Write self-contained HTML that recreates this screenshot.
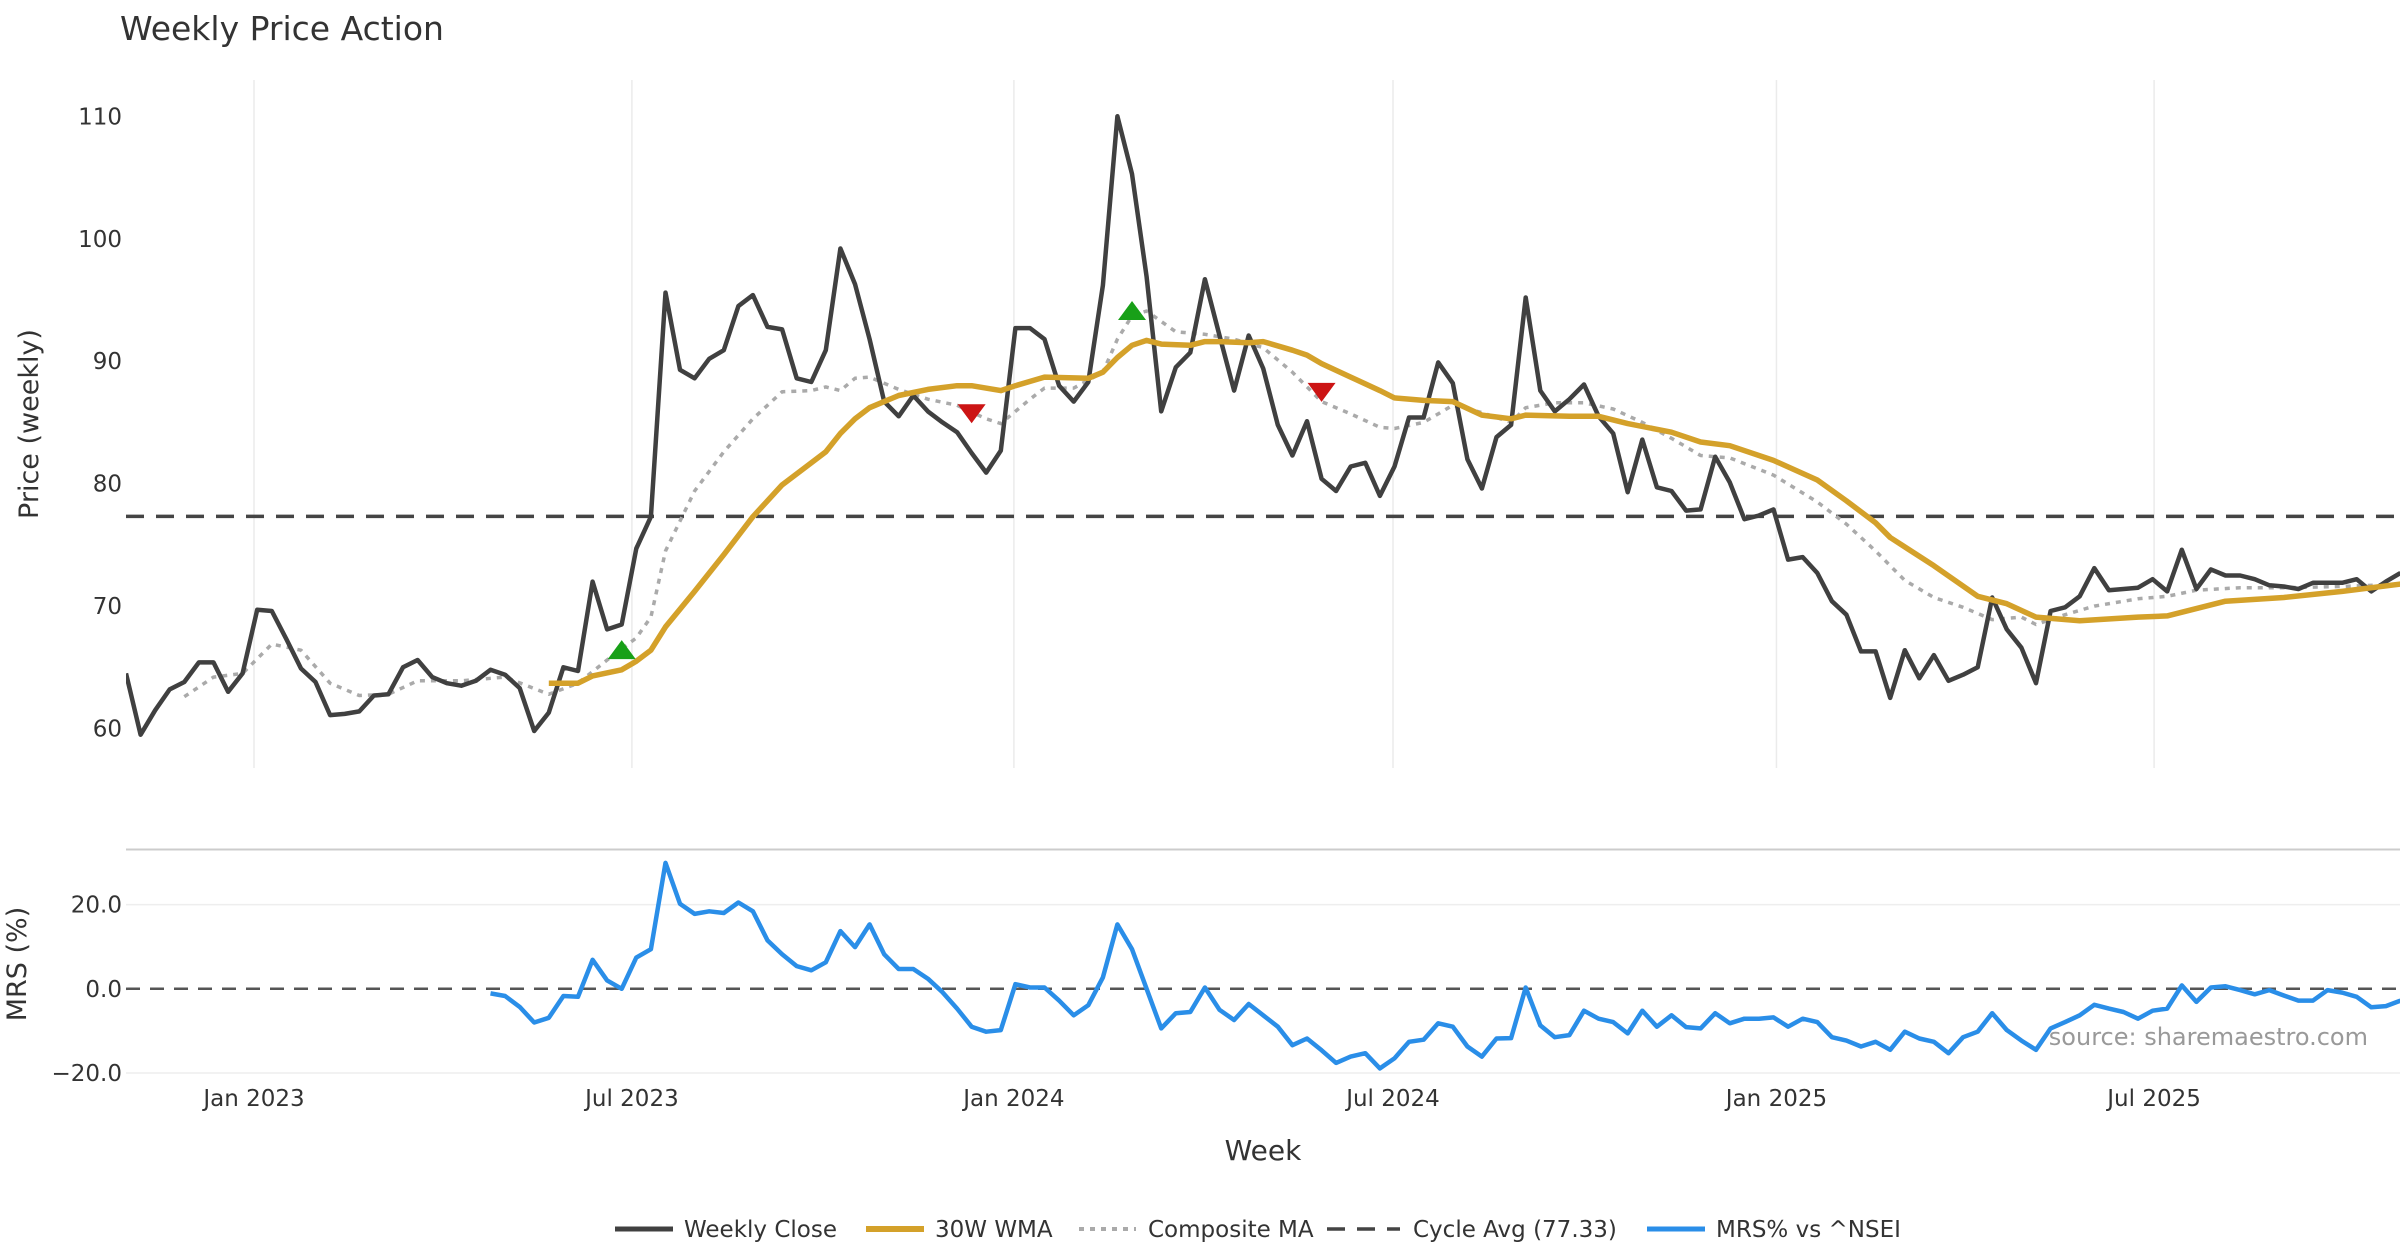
<!DOCTYPE html>
<html><head><meta charset="utf-8"><title>Weekly Price Action</title>
<style>
html,body{margin:0;padding:0;background:#fff;}
svg{display:block;font-family:"DejaVu Sans","Liberation Sans",sans-serif;}
</style></head>
<body>
<svg id="chart" width="2400" height="1260" viewBox="0 0 2400 1260" xmlns="http://www.w3.org/2000/svg">
<defs>
<clipPath id="clipP"><rect x="126" y="60" width="2274" height="720"/></clipPath>
<clipPath id="clipM"><rect x="126" y="850" width="2274" height="240"/></clipPath>
</defs>
<text x="120" y="40" font-size="33" fill="#333">Weekly Price Action</text>
<g id="grid"></g>
<g id="axes"></g>
<g id="series"></g>
<text transform="translate(38,424) rotate(-90)" text-anchor="middle" font-size="27" fill="#333">Price (weekly)</text>
<text transform="translate(26,964) rotate(-90)" text-anchor="middle" font-size="27" fill="#333">MRS (%)</text>
<text x="1263" y="1160" text-anchor="middle" font-size="28" fill="#333">Week</text>
<text x="2368" y="1045" text-anchor="end" font-size="24" fill="#999">source: sharemaestro.com</text>
<g font-size="23" fill="#333">
  <g><line x1="615" y1="1229" x2="673" y2="1229" stroke="#404040" stroke-width="5"/><text x="684" y="1237">Weekly Close</text></g>
  <g><line x1="866" y1="1229" x2="924" y2="1229" stroke="#d4a12a" stroke-width="6"/><text x="935" y="1237">30W WMA</text></g>
  <g><line x1="1079" y1="1229" x2="1136" y2="1229" stroke="#aaa" stroke-width="4" stroke-dasharray="5,6"/><text x="1148" y="1237">Composite MA</text></g>
  <g><line x1="1327" y1="1229" x2="1400" y2="1229" stroke="#444" stroke-width="3.5" stroke-dasharray="18,12"/><text x="1413" y="1237">Cycle Avg (77.33)</text></g>
  <g><line x1="1647" y1="1229" x2="1705" y2="1229" stroke="#2a8ee8" stroke-width="5"/><text x="1716" y="1237">MRS% vs ^NSEI</text></g>
</g>
</svg>
<script>
const closeValues = [64.5,59.5,61.5,63.2,63.8,65.4,65.4,63.0,64.5,69.7,69.6,67.3,64.9,63.8,61.1,61.2,61.4,62.7,62.8,65.0,65.6,64.2,63.7,63.5,63.9,64.8,64.4,63.3,59.8,61.3,65.0,64.7,72.0,68.1,68.5,74.7,77.3,95.6,89.3,88.6,90.2,90.9,94.5,95.4,92.8,92.6,88.6,88.3,90.9,99.2,96.3,91.8,86.7,85.5,87.2,85.9,85.0,84.2,82.5,80.9,82.7,92.7,92.7,91.8,88.0,86.7,88.3,96.2,110.0,105.3,96.9,85.9,89.5,90.7,96.7,92.1,87.6,92.1,89.4,84.8,82.3,85.1,80.4,79.4,81.4,81.7,79.0,81.4,85.4,85.4,89.9,88.2,82.0,79.6,83.8,84.8,95.2,87.6,85.9,86.9,88.1,85.5,84.1,79.3,83.6,79.7,79.4,77.8,77.9,82.2,80.1,77.1,77.4,77.9,73.8,74.0,72.7,70.4,69.3,66.3,66.3,62.5,66.4,64.1,66.0,63.9,64.4,65.0,70.7,68.1,66.6,63.7,69.6,69.9,70.8,73.1,71.3,71.4,71.5,72.2,71.2,74.6,71.4,73.0,72.5,72.5,72.2,71.7,71.6,71.4,71.9,71.9,71.9,72.2,71.2,72.0,72.7];
const wmaWeeks = [29,31,32,34,35,36,37,39,41,43,45,47,48,49,50,51,53,55,57,58,60,61,63,66,67,68,69,70,71,73,74,75,77,78,80,81,82,84,86,87,89,91,93,95,96,99,101,103,106,108,110,113,116,118,120,121,124,127,129,131,134,138,140,144,148,152,156];
const wmaValues = [63.7,63.7,64.3,64.8,65.5,66.4,68.3,71.2,74.2,77.3,79.9,81.7,82.6,84.1,85.3,86.2,87.2,87.7,88.0,88.0,87.6,88.0,88.7,88.6,89.1,90.3,91.3,91.7,91.4,91.3,91.6,91.6,91.5,91.6,90.9,90.5,89.8,88.7,87.6,87.0,86.8,86.7,85.6,85.3,85.6,85.5,85.5,84.9,84.2,83.4,83.1,81.9,80.3,78.6,76.8,75.6,73.3,70.8,70.2,69.1,68.8,69.1,69.2,70.4,70.7,71.2,71.8];
const compWeeks = [4,6,8,10,12,14,16,18,20,23,26,29,31,33,35,36,37,39,41,43,45,47,48,49,50,51,53,55,57,59,60,62,63,65,67,68,69,70,72,74,76,78,80,82,84,86,87,89,91,93,95,96,98,100,102,104,106,108,110,113,116,118,120,122,124,126,128,130,131,133,135,138,140,142,145,148,152,156];
const compValues = [62.6,64.2,64.5,66.9,66.4,63.7,62.7,62.8,63.9,63.9,64.2,62.8,63.7,65.6,67.4,69.1,74.5,79.4,82.6,85.3,87.5,87.6,87.9,87.6,88.6,88.7,87.7,86.9,86.4,85.3,84.9,86.9,87.8,87.8,89.1,91.8,93.7,94.1,92.4,92.2,91.8,91.1,89.1,86.7,85.7,84.6,84.5,85.0,86.4,85.8,85.0,86.2,86.6,86.6,86.1,85.0,83.7,82.3,82.1,80.7,78.5,76.7,74.5,72.1,70.7,69.9,68.9,69.1,68.5,69.3,70.0,70.6,70.8,71.3,71.5,71.5,71.6,71.8];
const mrsStart = 25;
const mrsValues = [-1.1,-1.7,-4.3,-8.0,-6.9,-1.7,-1.9,6.9,2.0,0,7.4,9.4,29.9,20.2,17.8,18.4,18.0,20.5,18.4,11.5,8.2,5.4,4.4,6.3,13.7,9.9,15.3,8.2,4.7,4.7,2.4,-0.8,-4.7,-9.0,-10.2,-9.8,1.1,0.3,0.3,-2.8,-6.3,-3.9,2.7,15.3,9.4,0,-9.4,-5.8,-5.5,0.3,-5.0,-7.4,-3.6,-6.3,-9.0,-13.4,-11.8,-14.6,-17.6,-16.1,-15.3,-18.9,-16.5,-12.6,-12.1,-8.2,-9.0,-13.7,-16.1,-11.8,-11.7,0.3,-8.7,-11.5,-11.0,-5.2,-7.1,-7.9,-10.6,-5.2,-9.0,-6.3,-9.1,-9.4,-5.8,-8.2,-7.1,-7.1,-6.8,-9.0,-7.1,-7.9,-11.5,-12.3,-13.7,-12.6,-14.5,-10.2,-11.8,-12.6,-15.3,-11.5,-10.2,-5.8,-9.8,-12.3,-14.5,-9.4,-7.9,-6.3,-3.8,-4.7,-5.5,-7.1,-5.2,-4.7,0.8,-3.1,0.3,0.6,-0.3,-1.3,-0.3,-1.6,-2.8,-2.8,-0.3,-0.9,-1.9,-4.4,-4.1,-2.8];
const cycleAvg = 77.33;
const buyWeeks = [34,69];
const buyValues = [66.4,94.1];
const sellWeeks = [58,82];
const sellValues = [85.75,87.5];
const priceTicks = [60,70,80,90,100,110];
const mrsTicks = [20,0,-20];
const mrsTickLabels = ["20.0","0.0","\u221220.0"];
const dateTickWeeks = [8.78,34.7,60.9,86.9,113.2,139.1];
const dateTickLabels = ["Jan 2023","Jul 2023","Jan 2024","Jul 2024","Jan 2025","Jul 2025"];

const NS = "http://www.w3.org/2000/svg";
const X0 = 126, DX = 14.58;
function xw(i){ return X0 + i*DX; }
function yP(v){ return 116.3 + (110 - v)*12.245; }
function yM(v){ return 988.8 - v*4.21; }
function mk(tag, attrs, parent){ const e = document.createElementNS(NS, tag); for (const k in attrs) e.setAttribute(k, attrs[k]); parent.appendChild(e); return e; }
const grid = document.getElementById('grid'), axes = document.getElementById('axes'), series = document.getElementById('series');

dateTickWeeks.forEach((w,k)=>{
  const g = mk('line',{x1:xw(w),x2:xw(w),y1:80,y2:768,stroke:'#ebebeb','stroke-width':1.5},grid);
  
  
  const t = mk('text',{x:xw(w),y:1106,'text-anchor':'middle','font-size':23,fill:'#333'},axes);
  t.textContent = dateTickLabels[k];
  
  
});
priceTicks.forEach(v=>{
  const t = mk('text',{x:122,y:yP(v)+8,'text-anchor':'end','font-size':23,fill:'#333'},axes);
  t.textContent = v;
  
  
});
const sep = mk('line',{x1:126,x2:2400,y1:849.5,y2:849.5,stroke:'#ccc','stroke-width':2},grid);


mrsTicks.forEach((v,k)=>{
  if (v !== 0){
    const gl = mk('line',{x1:126,x2:2400,y1:yM(v),y2:yM(v),stroke:'#eeeeee','stroke-width':1.5},grid);
    
    
  }
  const t = mk('text',{x:122,y:yM(v)+8,'text-anchor':'end','font-size':23,fill:'#333'},axes);
  t.textContent = mrsTickLabels[k];
  
  
});
const zl = mk('line',{x1:126,x2:2400,y1:yM(0),y2:yM(0),stroke:'#555','stroke-width':2.5,'stroke-dasharray':'14,10'},grid);



function pathFrom(ws, vs, yf){ let d=''; ws.forEach((w,k)=>{ if(vs[k]==null) return; d += (d?'L':'M') + xw(w).toFixed(1) + ',' + yf(vs[k]).toFixed(1); }); return d; }

const ca = mk('line',{x1:126,x2:2400,y1:yP(cycleAvg),y2:yP(cycleAvg),stroke:'#444','stroke-width':3.5,'stroke-dasharray':'18,12'},series);



const gP = mk('g',{'clip-path':'url(#clipP)'},series);
const comp = mk('path',{d:pathFrom(compWeeks,compValues,yP),fill:'none',stroke:'#aaa','stroke-width':3.5,'stroke-dasharray':'5,6','stroke-linejoin':'round'},gP);


const closeWeeks = closeValues.map((v,i)=>i);
const cl = mk('path',{d:pathFrom(closeWeeks,closeValues,yP),fill:'none',stroke:'#404040','stroke-width':4.5,'stroke-linejoin':'round'},gP);


const wma = mk('path',{d:pathFrom(wmaWeeks,wmaValues,yP),fill:'none',stroke:'#d4a12a','stroke-width':5.5,'stroke-linejoin':'round'},gP);



buyWeeks.forEach((w,k)=>{
  const x = xw(w), y = yP(buyValues[k]);
  const p = mk('polygon',{points:`${x-14},${y+9} ${x+14},${y+9} ${x},${y-10}`,fill:'#18a018'},series);
  
  
});
sellWeeks.forEach((w,k)=>{
  const x = xw(w), y = yP(sellValues[k]);
  const p = mk('polygon',{points:`${x-14},${y-9} ${x+14},${y-9} ${x},${y+10}`,fill:'#cc1414'},series);
  
  
});

const gM = mk('g',{'clip-path':'url(#clipM)'},series);
const mrsWeeks = mrsValues.map((v,k)=>mrsStart+k);
const ml = mk('path',{d:pathFrom(mrsWeeks,mrsValues,yM),fill:'none',stroke:'#2a8ee8','stroke-width':4.5,'stroke-linejoin':'round'},gM);


</script>
</body></html>
